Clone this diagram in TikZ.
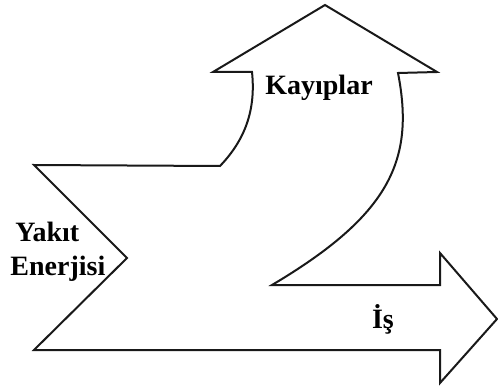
\documentclass[tikz,border=0pt]{standalone}
\usepackage{fontspec}
\setmainfont{Liberation Serif}
\begin{document}
\begin{tikzpicture}[x=0.5pt,y=-0.5pt,
  outline/.style={draw=black!90,line width=1pt,line join=miter},
  label/.style={font=\fontsize{14}{16}\selectfont\bfseries,inner sep=0pt,text=black}]
\useasboundingbox (0,0) rectangle (498,390);
% Sankey-style energy flow: fuel in from the left, losses up, work to the right
\draw[outline]
  (34,165) -- (220,166)
  .. controls (245,140) and (256,110) .. (252,72)
  -- (213,72) -- (325,5) -- (437,72) -- (398,73)
  .. controls (415,160) and (390,215) .. (272,285)
  -- (440,285) -- (440,253) -- (497,319) -- (440,383) -- (440,350)
  -- (34,350) -- (127,258) -- cycle;
\node[label,anchor=base] (loss) at (319,95) {Kayıplar};
\node[label,anchor=base west] (fuel1) at (15,242) {Yakıt};
\node[label,anchor=base west] (fuel2) at (10,275) {Enerjisi};
\node[label,anchor=base] (work) at (383,328) {İş};
\end{tikzpicture}
\end{document}
